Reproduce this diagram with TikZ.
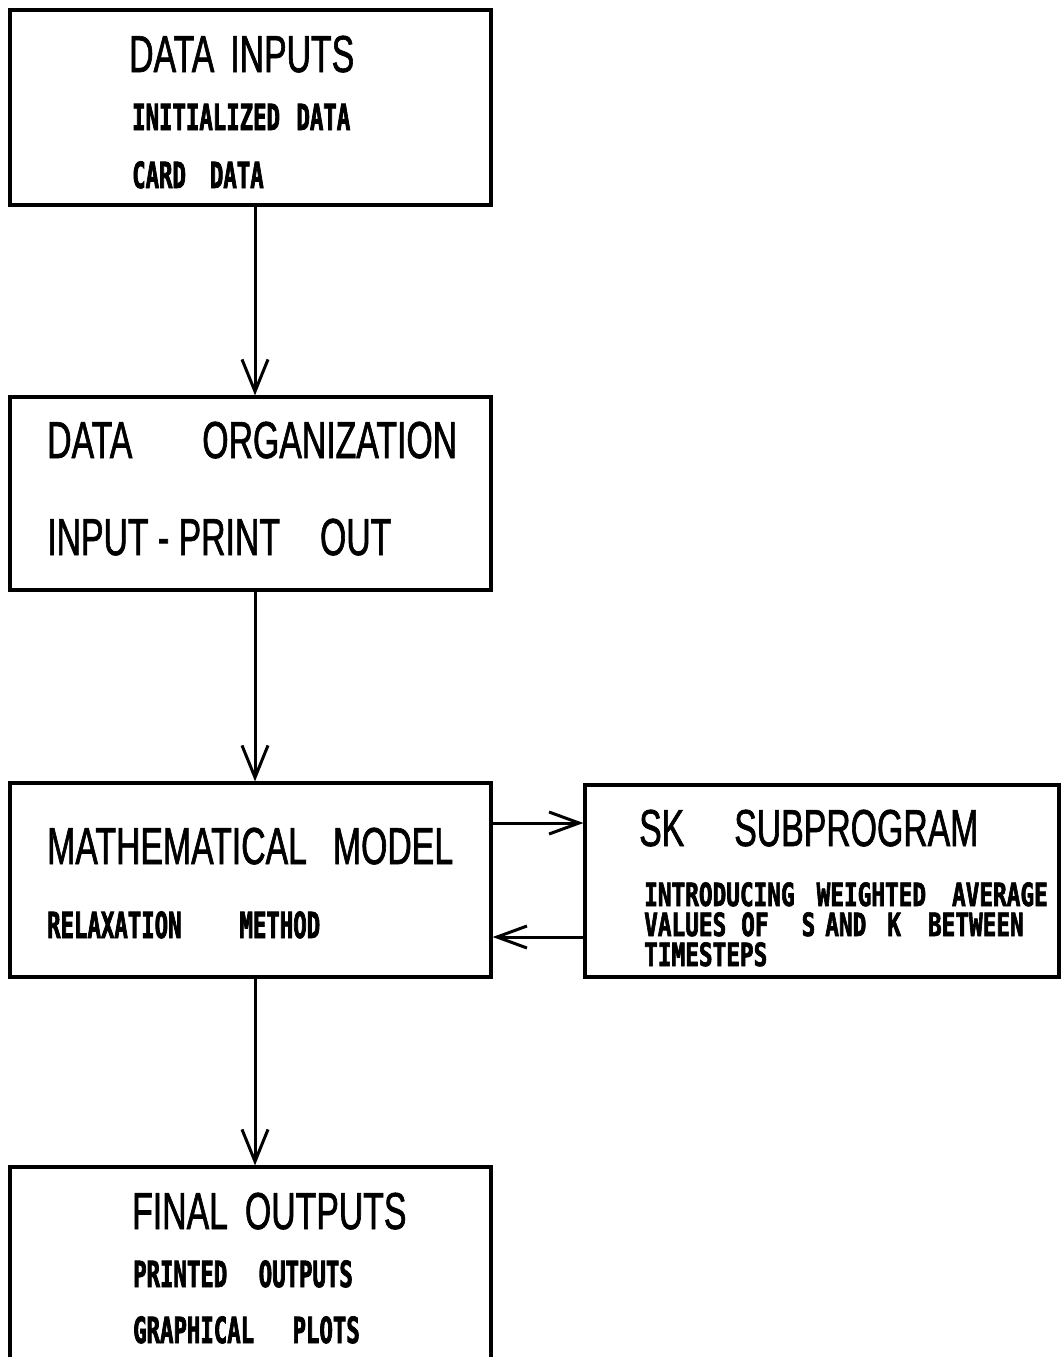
\documentclass[tikz,border=0pt]{standalone}
\usepackage{fontspec}
\usetikzlibrary{arrows.meta}
\newfontfamily\bigcond[FakeStretch=0.65,FakeBold=1.2]{Liberation Sans}
\newfontfamily\smallcond[FakeStretch=0.62,FakeBold=2]{DejaVu Sans Mono Bold}
\newfontfamily\skcond[FakeStretch=0.71,FakeBold=2]{DejaVu Sans Mono Bold}
\begin{document}
\begin{tikzpicture}[x=1pt,y=-1pt,
  box/.style={draw=black,line width=3.2pt,minimum width=481pt,inner sep=0pt},
  bigtxt/.style={anchor=base west,inner sep=0pt,font=\bigcond\fontsize{52}{52}\selectfont},
  smalltxt/.style={anchor=base west,inner sep=0pt,font=\smallcond\fontsize{36}{36}\selectfont},
  sktxt/.style={anchor=base west,inner sep=0pt,text height=23pt,text depth=0pt,font=\skcond\fontsize{32}{32}\selectfont},
  flow/.style={line width=3pt,-{Straight Barb[length=32pt,width=26pt,line width=3pt]}},
  side/.style={line width=3pt,-{Straight Barb[length=30pt,width=22pt,line width=3pt]}}]
\useasboundingbox (0,0) rectangle (1061,1357);
\fill[white] (0,0) rectangle (1061,1357);
\clip (0,0) rectangle (1061,1357);
\node[box,minimum height=195pt] (b1) at (250.5,107.5) {};
\node[box,minimum height=193pt] (b2) at (250.5,493.5) {};
\node[box,minimum height=194pt] (b3) at (250.5,880) {};
\node[box,minimum width=474pt,minimum height=192pt] (sk) at (822,881) {};
\node[box,minimum height=233pt] (b4) at (250.5,1283.5) {};
% texts
\node[bigtxt] (t1a) at (129,72) {DATA\hspace{16pt}INPUTS};
\node[smalltxt] (t1b) at (132,130) {INITIALIZED\hspace{16.5pt}DATA};
\node[smalltxt] (t1c) at (132,188) {CARD\hspace{24pt}DATA};
\node[bigtxt] (t2a) at (47,458) {DATA\hspace{70pt}ORGANIZATION};
\node[bigtxt] (t2b) at (47,555) {INPUT - PRINT\hspace{40pt}OUT};
\node[bigtxt] (t3a) at (47,864) {MATHEMATICAL\hspace{26pt}MODEL};
\node[smalltxt] (t3b) at (47,938) {RELAXATION\hspace{58pt}METHOD};
\node[bigtxt] (t4a) at (639,846) {SK\hspace{50pt}SUBPROGRAM};
\node[sktxt] (t4b) at (644,906) {INTRODUCING\hspace{22pt}WEIGHTED\hspace{26pt}AVERAGE};
\node[sktxt] (t4c) at (644,936) {VALUES\hspace{15pt}OF\hspace{33pt}S\hspace{10pt}AND\hspace{21pt}K\hspace{27pt}BETWEEN};
\node[sktxt] (t4d) at (644,966) {TIMESTEPS};
\node[bigtxt] (t5a) at (132,1229) {FINAL\hspace{17pt}OUTPUTS};
\node[smalltxt] (t5b) at (133,1287) {PRINTED\hspace{31.5pt}OUTPUTS};
\node[smalltxt] (t5c) at (133,1343) {GRAPHICAL\hspace{38.5pt}PLOTS};
% connectors
\draw[flow] ([xshift=4.5pt]b1.south) -- ([xshift=4.5pt]b2.north);
\draw[flow] ([xshift=4.5pt]b2.south) -- ([xshift=4.5pt]b3.north);
\draw[flow] ([xshift=4.5pt]b3.south) -- ([xshift=4.5pt]b4.north);
\draw[side] ([yshift=57pt]b3.east) -- ([yshift=57pt]b3.east -| sk.west);
\draw[side] ([yshift=-57pt]b3.east -| sk.west) -- ([yshift=-57pt]b3.east);
\end{tikzpicture}
\end{document}
